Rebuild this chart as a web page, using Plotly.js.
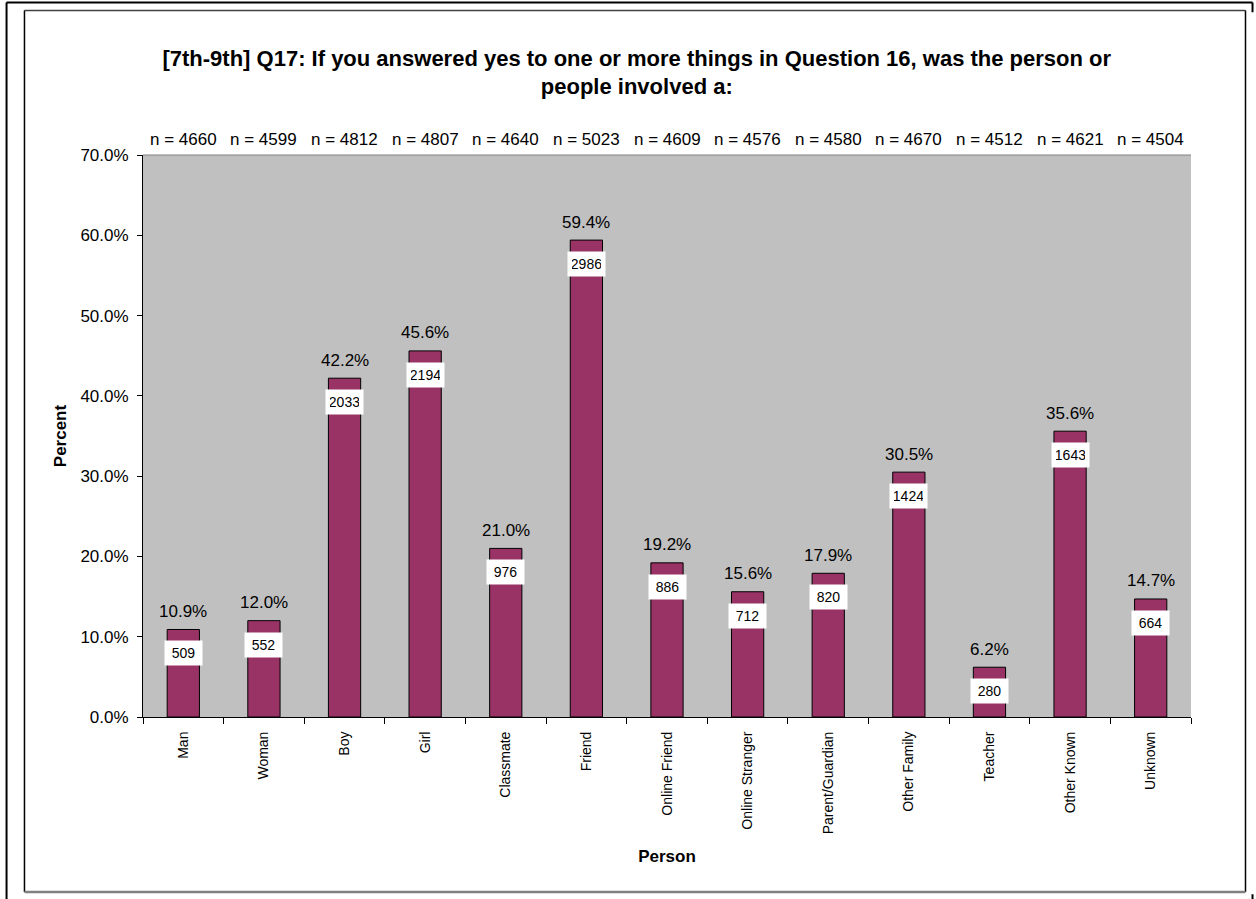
<!DOCTYPE html>
<html>
<head>
<meta charset="utf-8">
<script src="https://cdn.plot.ly/plotly-3.0.1.min.js"></script>
<style>html,body{margin:0;padding:0;background:#fff;}#chart{width:1256px;height:899px;}</style>
</head>
<body>
<div id="chart"></div>
<script>
const categories = ["Man","Woman","Boy","Girl","Classmate","Friend","Online Friend","Online Stranger","Parent/Guardian","Other Family","Teacher","Other Known","Unknown"];
const percents = [10.9, 12.0, 42.2, 45.6, 21.0, 59.4, 19.2, 15.6, 17.9, 30.5, 6.2, 35.6, 14.7];
const counts = [509, 552, 2033, 2194, 976, 2986, 886, 712, 820, 1424, 280, 1643, 664];
const nValues = [4660, 4599, 4812, 4807, 4640, 5023, 4609, 4576, 4580, 4670, 4512, 4621, 4504];

const FONT = '"Liberation Sans", Arial, sans-serif';

const trace = {
  type: 'bar',
  x: categories,
  y: percents,
  width: 0.4,
  marker: {color: '#993366', line: {color: '#000000', width: 1}},
  hoverinfo: 'x+y'
};

const annotations = [];
categories.forEach((c, i) => {
  annotations.push({
    x: c, y: percents[i], xref: 'x', yref: 'y',
    text: percents[i].toFixed(1) + '%', showarrow: false,
    yanchor: 'middle', yshift: 18,
    font: {family: FONT, size: 17, color: '#000'}
  });
  annotations.push({
    x: c, y: percents[i], xref: 'x', yref: 'y',
    text: String(counts[i]), showarrow: false,
    yanchor: 'middle', yshift: -24,
    bgcolor: '#ffffff', borderpad: 4, width: 29, height: 16,
    font: {family: FONT, size: 14, color: '#000'}
  });
  annotations.push({
    x: c, y: 1, xref: 'x', yref: 'paper',
    text: 'n = ' + nValues[i], showarrow: false,
    yanchor: 'middle', yshift: 16,
    font: {family: FONT, size: 17, color: '#000'}
  });
});

const layout = {
  width: 1256, height: 899,
  margin: {l: 143, r: 65, t: 155, b: 182, pad: 0},
  paper_bgcolor: '#ffffff',
  plot_bgcolor: '#c0c0c0',
  showlegend: false,
  font: {family: FONT, color: '#000'},
  title: {
    text: '[7th-9th] Q17: If you answered yes to one or more things in Question 16, was the person or<br>people involved a:',
    font: {family: FONT, size: 22, color: '#000', weight: 'bold'},
    x: 0.507, xanchor: 'center', y: 0.927, yanchor: 'middle'
  },
  xaxis: {
    type: 'category',
    range: [-0.5, categories.length - 0.5],
    tickson: 'boundaries',
    ticks: 'outside', ticklen: 6, tickcolor: '#000',
    ticklabelstandoff: 8,
    showline: true, linecolor: '#000', linewidth: 1,
    showgrid: false, zeroline: false,
    tickangle: -90,
    tickfont: {family: FONT, size: 14, color: '#000'},
    title: {text: 'Person', font: {family: FONT, size: 17, color: '#000', weight: 'bold'}, standoff: 16},
    automargin: false
  },
  yaxis: {
    range: [0, 70], dtick: 10, tick0: 0,
    tickformat: '.1f', ticksuffix: '%',
    ticks: 'outside', ticklen: 5, tickcolor: '#000',
    ticklabelstandoff: 5,
    showline: true, linecolor: '#000', linewidth: 1,
    showgrid: false, zeroline: false,
    tickfont: {family: FONT, size: 17, color: '#000'},
    title: {text: 'Percent', font: {family: FONT, size: 17, color: '#000', weight: 'bold'}, standoff: 9},
    automargin: false
  },
  yaxis2: {
    overlaying: 'y', side: 'right', anchor: 'x',
    range: [0, 9], dtick: 1, tick0: 0,
    ticks: 'outside', ticklen: 6, tickcolor: '#000',
    showticklabels: false, showline: true, linecolor: '#000', linewidth: 1,
    showgrid: false, zeroline: false, fixedrange: true
  },
  yaxis3: {
    overlaying: 'y', side: 'right', anchor: 'x',
    range: [0, 9], dtick: 1, tick0: 0,
    ticks: 'inside', ticklen: 6, tickcolor: '#000',
    showticklabels: false, showline: false,
    showgrid: false, zeroline: false, fixedrange: true
  },
  annotations: annotations,
  shapes: [
    {type: 'line', xref: 'paper', yref: 'paper', x0: 0, x1: 1, y0: 1, y1: 1, line: {color: '#808080', width: 1}},
    // inner chart-area frame
    {type: 'line', xref: 'paper', yref: 'paper', x0: -0.1131, x1: 1.0520, y0: 1.2571, y1: 1.2571, line: {color: '#404040', width: 1.5}},
    {type: 'line', xref: 'paper', yref: 'paper', x0: -0.1131, x1: -0.1131, y0: -0.3114, y1: 1.2571, line: {color: '#000', width: 1.5}},
    {type: 'line', xref: 'paper', yref: 'paper', x0: 1.0520, x1: 1.0520, y0: -0.3114, y1: 1.2571, line: {color: '#000', width: 1.5}},
    {type: 'line', xref: 'paper', yref: 'paper', x0: -0.1131, x1: 1.0520, y0: -0.3114, y1: -0.3114, line: {color: '#808080', width: 2.5}},
    // outer page frame
    {type: 'line', xref: 'paper', yref: 'paper', x0: -0.1302, x1: 1.0587, y0: 1.2714, y1: 1.2714, line: {color: '#000', width: 2}},
    {type: 'line', xref: 'paper', yref: 'paper', x0: -0.1302, x1: -0.1302, y0: -0.34, y1: 1.2714, line: {color: '#000', width: 2}},
    {type: 'line', xref: 'paper', yref: 'paper', x0: 1.0587, x1: 1.0587, y0: 1.2540, y1: 1.2714, line: {color: '#000', width: 2}},
    {type: 'line', xref: 'paper', yref: 'paper', x0: 1.0587, x1: 1.0587, y0: -0.34, y1: -0.3154, line: {color: '#000', width: 2}}
  ]
};

Plotly.newPlot('chart', [trace], layout, {displayModeBar: false, staticPlot: true});
</script>
</body>
</html>
